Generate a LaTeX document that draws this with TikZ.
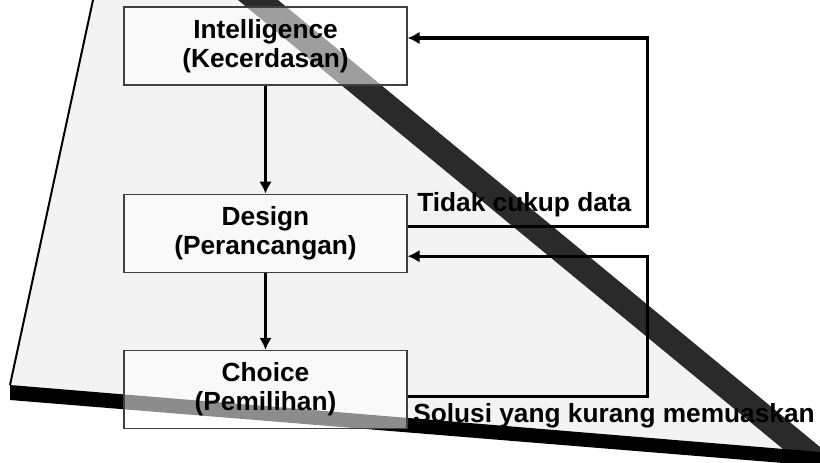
\documentclass[tikz,border=0pt]{standalone}
\usepackage{fontspec}
\setmainfont{Liberation Sans}
\usepackage{tikz}
\usetikzlibrary{arrows.meta, positioning}
\definecolor{paper}{HTML}{F3F3F3}
\definecolor{bandgrey}{HTML}{2A2A2A}
\definecolor{frame}{HTML}{404040}
\tikzset{%
  block/.style={rectangle, draw=frame, line width=0.9pt, fill=white, fill opacity=0.55, text opacity=1, align=center, font=\bfseries\fontsize{19.7}{22}\selectfont, minimum width=212.25pt, minimum height=58.5pt, inner sep=0pt},
  note/.style={font=\bfseries\fontsize{19.7}{22}\selectfont, inner sep=0pt, anchor=base west},
  line/.style={draw, line width=2.3pt, -{Latex[length=9pt, width=9.5pt]}}}
\begin{document}
\begin{tikzpicture}[x=0.75pt, y=-0.75pt]
  \useasboundingbox (0,0) rectangle (820,463);
  % sheet with its shadow edges
  \fill[paper] (93,0) -- (260,0) -- (820,447) -- (820,452) -- (10,385) -- cycle;
  \fill[bandgrey] (238,0) -- (278,0) -- (820,447) -- (820,463) -- (800,463) -- cycle;
  \fill[black] (10,385) -- (820,452) -- (820,466) -- (10,400) -- cycle;
  \draw[line width=1.5pt] (93,0) -- (10,385);

  \node[block] (intel) at (265.5,46) {Intelligence\\(Kecerdasan)};
  \node[block, below=81pt of intel] (design) {Design\\(Perancangan)};
  \node[block, below=57.75pt of design] (choice) {Choice\\(Pemilihan)};

  \draw[line] (intel) -- (design);
  \draw[line] (design) -- (choice);
  % feedback loops
  \draw[line] ([yshift=5.25pt]design.east) -- ++(240,0) |- ([yshift=6pt]intel.east);
  \draw[line] ([yshift=-5.25pt]choice.east) -- ++(240,0) |- ([yshift=-17.25pt]design.east);

  \node[note] (nodata) at (417,212) {Tidak cukup data};
  \node[note] (weak) at (413,422) {Solusi yang kurang memuaskan};
\end{tikzpicture}
\end{document}
